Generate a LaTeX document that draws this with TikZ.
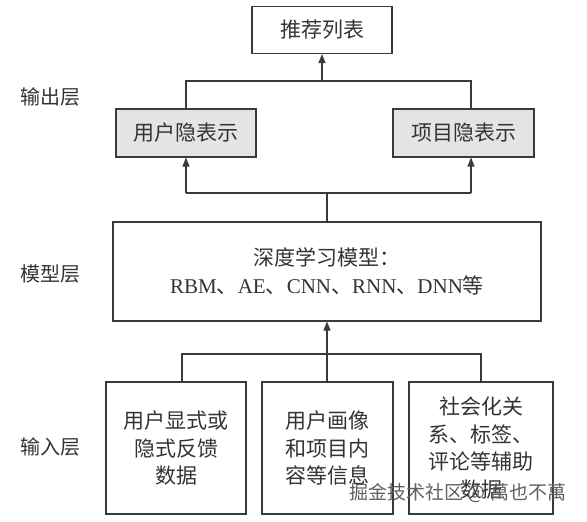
\documentclass[tikz,border=0pt]{standalone}
\usepackage{fontspec}
\setmainfont{Noto Sans CJK SC}
\newfontfamily\latin{Liberation Serif}
\newcommand\en[1]{{\latin #1}}
\usetikzlibrary{arrows.meta}
\definecolor{linegray}{HTML}{3A3A3A}
\definecolor{txtgray}{HTML}{333333}
\definecolor{boxgray}{HTML}{E4E4E4}
\tikzstyle{block} = [rectangle, 
draw=linegray, 
line width=1.1pt, 
text=txtgray, 
font=\fontsize{21}{27.5}\selectfont, 
align=center, 
inner sep=0pt]
\tikzstyle{hidden} = [block, 
fill=boxgray, 
minimum width=140pt, 
minimum height=48pt]
\tikzstyle{inputbox} = [block, minimum height=132pt]
\tikzstyle{layer} = [text=txtgray, font=\fontsize{20}{20}\selectfont]
\tikzstyle{link} = [line width=1.1pt, draw=linegray]
\tikzstyle{arrow} = [link, -{Triangle[length=9pt,width=7pt]}]

\begin{document}
\begin{tikzpicture}[x=1pt, y=-1pt]
\useasboundingbox (0,0) rectangle (587,522);
% output layer
\node (list) [block, minimum width=140pt, minimum height=47pt] at (322,30) {推荐列表};
\node (user) [hidden] at (186,133) {用户隐表示};
\node (item) [hidden, minimum width=141pt] at (463.5,133) {项目隐表示};
% model layer
\node (model) [block, minimum width=428pt, minimum height=99pt, font=\fontsize{21}{28}\selectfont] at (327,271.5)
  {深度学习模型：\\\en{RBM}、\en{AE}、\en{CNN}、\en{RNN}、\en{DNN}等};
% input layer
\node (fb) [inputbox, minimum width=140pt] at (176,448) {用户显式或\\隐式反馈\\数据};
\node (prof) [inputbox, minimum width=131pt] at (327.5,448) {用户画像\\和项目内\\容等信息};
\node (aux) [inputbox, minimum width=144pt] at (481,448) {社会化关\\系、标签、\\评论等辅助\\数据};

\node (outl) [layer] at (50,97) {输出层};
\node (modl) [layer] at (50,274) {模型层};
\node (inl) [layer] at (50,447) {输入层};

\coordinate (topL) at (186,81);
\coordinate (topR) at (471,81);
\coordinate (midL) at (186,193);
\coordinate (midR) at (471,193);
\coordinate (botL) at (182,354);
\coordinate (botR) at (481,354);

\draw [link] (user.north -| topL) -- (topL) -- (topR) -- (item.north -| topR);
\draw [arrow] (list.south |- topL) -- (list.south);
\draw [link] (model.north) -- (model.north |- midL);
\draw [link] (midL) -- (midR);
\draw [arrow] (midL) -- (user.south);
\draw [arrow] (midR) -- (midR |- item.south);
\draw [link] (fb.north -| botL) -- (botL) -- (botR) -- (aux.north);
\draw [link] (model.south |- botL) -- (model.south |- prof.north);
\draw [arrow] (model.south |- botL) -- (model.south);

\node (mark) [text=gray!75!black, font=\fontsize{19}{19}\selectfont] at (458,493) {掘金技术社区 @ 萬也不萬};
\end{tikzpicture}
\end{document}
